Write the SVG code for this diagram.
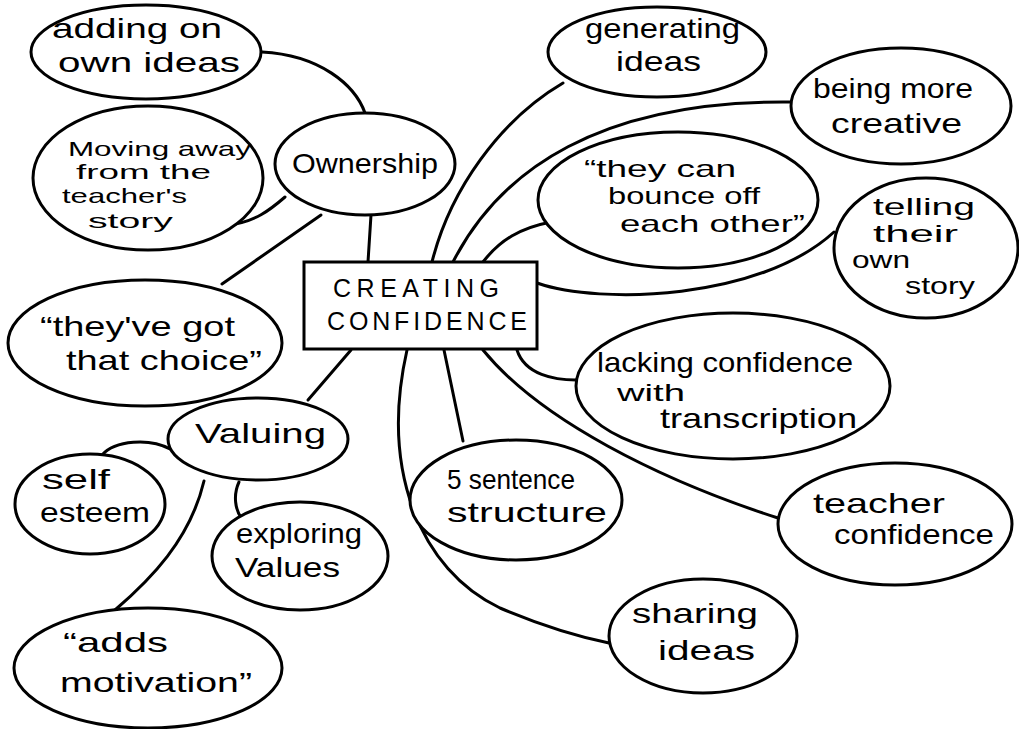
<svg xmlns="http://www.w3.org/2000/svg" width="1019" height="729" viewBox="0 0 1019 729">
  <style>
    .node ellipse, .node rect { fill: #fff; stroke: #000; stroke-width: 3; }
    .links path { fill: none; stroke: #000; stroke-width: 3; stroke-linecap: round; }
    text { font-family: "Liberation Sans", Arial, sans-serif; font-size: 28px; fill: #000; }
    .small { font-size: 21px; }
    .mid { font-size: 24px; }
    .caps { font-size: 25px; }
  </style>
  <rect width="1019" height="729" fill="#fff"/>

  <!-- connectors -->
  <g class="links" id="connectors">
    <path d="M262,52 C320,55 355,85 365,113"/>
    <path d="M228,225 C255,222 270,210 285,197"/>
    <path d="M222,284 L321,215"/>
    <path d="M371,215 L368,262"/>
    <path d="M432,262 C450,190 500,120 563,83"/>
    <path d="M453,262 C500,170 600,100 791,102"/>
    <path d="M483,262 C500,240 520,228 551,222"/>
    <path d="M537,283 C600,305 760,300 834,232"/>
    <path d="M517,350 C525,375 555,380 576,380"/>
    <path d="M483,350 C540,420 660,480 778,518"/>
    <path d="M444,350 L463,441"/>
    <path d="M407,350 C380,470 420,570 500,608 C540,625 580,637 609,643"/>
    <path d="M351,350 L308,400"/>
    <path d="M102,455 C115,440 150,438 170,449"/>
    <path d="M239,482 C233,495 235,510 242,519"/>
    <path d="M204,481 C190,540 150,580 115,610"/>
  </g>

  <g class="node" id="n-adding">
    <ellipse cx="146" cy="52" rx="115" ry="47"/>
    <text x="52" y="38" textLength="170" lengthAdjust="spacingAndGlyphs">adding on</text>
    <text x="58" y="72" textLength="182" lengthAdjust="spacingAndGlyphs">own ideas</text>
  </g>

  <g class="node" id="n-moving">
    <ellipse cx="148" cy="178" rx="115" ry="72"/>
    <text class="small" x="68" y="156" textLength="183" lengthAdjust="spacingAndGlyphs">Moving away</text>
    <text class="small" x="76" y="179" textLength="135" lengthAdjust="spacingAndGlyphs">from the</text>
    <text class="small" x="62" y="203" textLength="125" lengthAdjust="spacingAndGlyphs">teacher's</text>
    <text class="small" x="88" y="228" textLength="85" lengthAdjust="spacingAndGlyphs">story</text>
  </g>

  <g class="node" id="n-ownership">
    <ellipse cx="365" cy="164" rx="90" ry="51"/>
    <text x="292" y="173" textLength="146" lengthAdjust="spacingAndGlyphs">Ownership</text>
  </g>

  <g class="node" id="n-choice">
    <ellipse cx="145" cy="343" rx="137" ry="63"/>
    <text x="40" y="336" textLength="195" lengthAdjust="spacingAndGlyphs">“they've got</text>
    <text x="66" y="370" textLength="196" lengthAdjust="spacingAndGlyphs">that choice”</text>
  </g>

  <g class="node" id="n-core">
    <rect x="304" y="262" width="233" height="87"/>
    <text class="caps" x="333" y="297" textLength="166" lengthAdjust="spacing">CREATING</text>
    <text class="caps" x="327" y="330" textLength="200" lengthAdjust="spacing">CONFIDENCE</text>
  </g>

  <g class="node" id="n-valuing">
    <ellipse cx="258" cy="439" rx="90" ry="41"/>
    <text x="195" y="443" textLength="131" lengthAdjust="spacingAndGlyphs">Valuing</text>
  </g>

  <g class="node" id="n-self">
    <ellipse cx="90" cy="504" rx="75" ry="50"/>
    <text x="42" y="489" textLength="68" lengthAdjust="spacingAndGlyphs">self</text>
    <text x="40" y="522" textLength="110" lengthAdjust="spacingAndGlyphs">esteem</text>
  </g>

  <g class="node" id="n-exploring">
    <ellipse cx="300" cy="556" rx="88" ry="54"/>
    <text x="236" y="543" textLength="126" lengthAdjust="spacingAndGlyphs">exploring</text>
    <text x="235" y="577" textLength="105" lengthAdjust="spacingAndGlyphs">Values</text>
  </g>

  <g class="node" id="n-motivation">
    <ellipse cx="148" cy="668" rx="134" ry="60"/>
    <text x="63" y="652" textLength="105" lengthAdjust="spacingAndGlyphs">“adds</text>
    <text x="60" y="692" textLength="192" lengthAdjust="spacingAndGlyphs">motivation”</text>
  </g>

  <g class="node" id="n-generating">
    <ellipse cx="657" cy="52" rx="109" ry="45"/>
    <text x="585" y="38" textLength="155" lengthAdjust="spacingAndGlyphs">generating</text>
    <text x="616" y="71" textLength="85" lengthAdjust="spacingAndGlyphs">ideas</text>
  </g>

  <g class="node" id="n-creative">
    <ellipse cx="901" cy="106" rx="110" ry="58"/>
    <text x="813" y="98" textLength="160" lengthAdjust="spacingAndGlyphs">being more</text>
    <text x="831" y="133" textLength="131" lengthAdjust="spacingAndGlyphs">creative</text>
  </g>

  <g class="node" id="n-bounce">
    <ellipse cx="678" cy="200" rx="140" ry="68"/>
    <text class="mid" x="584" y="177" textLength="152" lengthAdjust="spacingAndGlyphs">“they can</text>
    <text class="mid" x="608" y="204" textLength="152" lengthAdjust="spacingAndGlyphs">bounce off</text>
    <text class="mid" x="620" y="232" textLength="185" lengthAdjust="spacingAndGlyphs">each other”</text>
  </g>

  <g class="node" id="n-telling">
    <ellipse cx="926" cy="248" rx="92" ry="70"/>
    <text class="mid" x="873" y="215" textLength="102" lengthAdjust="spacingAndGlyphs">telling</text>
    <text class="mid" x="873" y="242" textLength="85" lengthAdjust="spacingAndGlyphs">their</text>
    <text class="mid" x="852" y="268" textLength="58" lengthAdjust="spacingAndGlyphs">own</text>
    <text class="mid" x="905" y="294" textLength="70" lengthAdjust="spacingAndGlyphs">story</text>
  </g>

  <g class="node" id="n-lacking">
    <ellipse cx="733" cy="386" rx="157" ry="73"/>
    <text x="597" y="372" textLength="256" lengthAdjust="spacingAndGlyphs">lacking confidence</text>
    <text class="mid" x="617" y="401" textLength="68" lengthAdjust="spacingAndGlyphs">with</text>
    <text x="660" y="428" textLength="197" lengthAdjust="spacingAndGlyphs">transcription</text>
  </g>

  <g class="node" id="n-sentence">
    <ellipse cx="516" cy="500" rx="106" ry="60"/>
    <text x="447" y="489" textLength="128" lengthAdjust="spacingAndGlyphs">5 sentence</text>
    <text x="447" y="522" textLength="160" lengthAdjust="spacingAndGlyphs">structure</text>
  </g>

  <g class="node" id="n-teacher">
    <ellipse cx="895" cy="524" rx="117" ry="61"/>
    <text x="813" y="513" textLength="132" lengthAdjust="spacingAndGlyphs">teacher</text>
    <text x="834" y="544" textLength="160" lengthAdjust="spacingAndGlyphs">confidence</text>
  </g>

  <g class="node" id="n-sharing">
    <ellipse cx="703" cy="636" rx="94" ry="57"/>
    <text x="632" y="623" textLength="126" lengthAdjust="spacingAndGlyphs">sharing</text>
    <text x="658" y="660" textLength="97" lengthAdjust="spacingAndGlyphs">ideas</text>
  </g>
</svg>
